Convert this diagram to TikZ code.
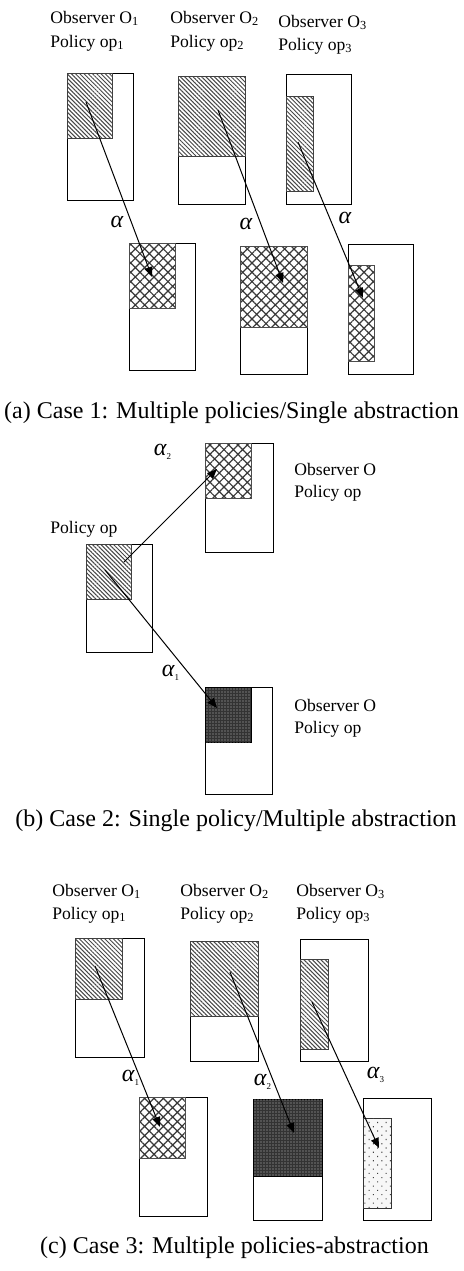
\documentclass[tikz,border=0pt]{standalone}
\usepackage{fontspec}
\setmainfont{Liberation Serif}
\usepackage{tikz}
\usetikzlibrary{arrows.meta,patterns.meta}

\begin{document}
\begin{tikzpicture}[x=0.5pt,y=-0.5pt,
  frame/.style={draw=black,line width=0.5pt,fill=white},
  hatchfill/.style={draw=black!75,line width=0.45pt,
     pattern={Lines[angle=-45,distance=1.5pt,line width=0.5pt]},pattern color=black!72},
  crossfill/.style={draw=black!70,line width=0.45pt,
     pattern={Hatch[angle=45,distance=3.3pt,line width=0.6pt]},pattern color=black!78},
  darkfill/.style={draw=black,line width=0.5pt,fill=black!80,
     postaction={pattern={Dots[distance=1.5pt,radius=0.3pt]},pattern color=black!25}},
  dotfill/.style={draw=black!80,line width=0.5pt,fill=black!3,
     postaction={pattern={Dots[distance=3pt,angle=45,radius=0.4pt]},pattern color=black!75}},
  mapto/.style={-{Triangle[length=5pt,width=4pt]},line width=0.5pt},
  lbl/.style={font=\fontsize{8.8}{10}\selectfont,anchor=base west,inner sep=0pt},
  alab/.style={font=\fontsize{12}{12}\selectfont\itshape,inner sep=0pt},
  capt/.style={font=\fontsize{12}{14}\selectfont,anchor=base,inner sep=0pt}]
\useasboundingbox (0,0) rectangle (463,1271);
\newcommand{\alphasub}[1]{α\textsubscript{\fontsize{4.5}{5}\selectfont\upshape #1}}

%% ---------------- (a) multiple policies / single abstraction
\foreach \i/\x/\yo/\yp in {1/50/23/47, 2/170/23/47, 3/278/27/50} {
   \node[lbl] (obsA\i) at (\x,\yo) {Observer O\textsubscript{\i}};
   \node[lbl] (polA\i) at (\x,\yp) {Policy op\textsubscript{\i}};
}
%% observer frames and their parts
\foreach \xa/\ya/\xb/\yb in {67/73/133/200, 178/76/245/204, 286/74/351/204}
   \draw[frame] (\xa,\ya) rectangle (\xb,\yb);
\foreach \xa/\ya/\xb/\yb in {67/73/112/138, 178/76/245/156, 286/96/313/191}
   \draw[hatchfill] (\xa,\ya) rectangle (\xb,\yb);
%% abstracted frames
\foreach \xa/\ya/\xb/\yb in {129/243/195/370, 240/246/307/374, 348/244/413/374}
   \draw[frame] (\xa,\ya) rectangle (\xb,\yb);
\foreach \xa/\ya/\xb/\yb in {129/243/175/308, 240/246/307/327, 348/265/374/361}
   \draw[crossfill] (\xa,\ya) rectangle (\xb,\yb);
%% abstraction arrows
\foreach \i/\sx/\sy/\tx/\ty/\lx/\ly in {1/86/102/152/277/117/222,
                                        2/218/110/283/283/246/224,
                                        3/298/142/363/298/345/218} {
   \coordinate (srcA\i) at (\sx,\sy);
   \coordinate (tgtA\i) at (\tx,\ty);
   \draw[mapto] (srcA\i) -- (tgtA\i);
   \node[alab] (alphaA\i) at (\lx,\ly) {α};
}
\node[capt] (captA) at (231.5,418) {(a) Case 1: Multiple policies/Single abstraction};

%% ---------------- (b) single policy / multiple abstraction
\node[lbl] (polB) at (50,533) {Policy op};
\draw[frame] (86,544) rectangle (152,652);
\draw[hatchfill] (86,544) rectangle (131,599);
%% upper observer
\node[lbl] (obsBt) at (294,475) {Observer O};
\node[lbl] (polBt) at (294,497) {Policy op};
\draw[frame] (205,443) rectangle (273,552);
\draw[crossfill] (205,443) rectangle (251,498);
%% lower observer
\node[lbl] (obsBb) at (294,711) {Observer O};
\node[lbl] (polBb) at (294,733) {Policy op};
\draw[frame] (205,687) rectangle (272,794);
\draw[darkfill] (205,687) rectangle (251,742);
%% arrows
\coordinate (srcB2) at (124,562);
\coordinate (tgtB2) at (217,469);
\coordinate (srcB1) at (105,570);
\coordinate (tgtB1) at (217,708);
\draw[mapto] (srcB2) -- (tgtB2);
\draw[mapto] (srcB1) -- (tgtB1);
\node[alab] (alphaB2) at (163,452) {\alphasub{2}};
\node[alab] (alphaB1) at (171,673) {\alphasub{1}};
\node[capt] (captB) at (236,826) {(b) Case 2: Single policy/Multiple abstraction};

%% ---------------- (c) multiple policies-abstraction
\foreach \i/\x in {1/52, 2/180, 3/296} {
   \node[lbl] (obsC\i) at (\x,896) {Observer O\textsubscript{\i}};
   \node[lbl] (polC\i) at (\x,919) {Policy op\textsubscript{\i}};
}
\foreach \xa/\ya/\xb/\yb in {75/938/144/1057, 190/941/258/1061, 300/939/368/1061}
   \draw[frame] (\xa,\ya) rectangle (\xb,\yb);
\foreach \xa/\ya/\xb/\yb in {75/938/122/999, 190/941/258/1016, 300/959/328/1049}
   \draw[hatchfill] (\xa,\ya) rectangle (\xb,\yb);
\foreach \xa/\ya/\xb/\yb in {139/1097/207/1216, 253/1099/322/1220, 363/1098/431/1220}
   \draw[frame] (\xa,\ya) rectangle (\xb,\yb);
\draw[crossfill] (139,1097) rectangle (185,1158);
\draw[darkfill] (253,1099) rectangle (322,1176);
\draw[dotfill] (363,1118) rectangle (391,1208);
\foreach \i/\sx/\sy/\tx/\ty/\lx/\ly in {1/95/966/160/1127/131/1078,
                                        2/230/972/294/1133/263/1082,
                                        3/312/1002/379/1148/376/1075} {
   \coordinate (srcC\i) at (\sx,\sy);
   \coordinate (tgtC\i) at (\tx,\ty);
   \draw[mapto] (srcC\i) -- (tgtC\i);
   \node[alab] (alphaC\i) at (\lx,\ly) {\alphasub{\i}};
}
\node[capt] (captC) at (234.5,1253) {(c) Case 3: Multiple policies-abstraction};
\end{tikzpicture}
\end{document}
